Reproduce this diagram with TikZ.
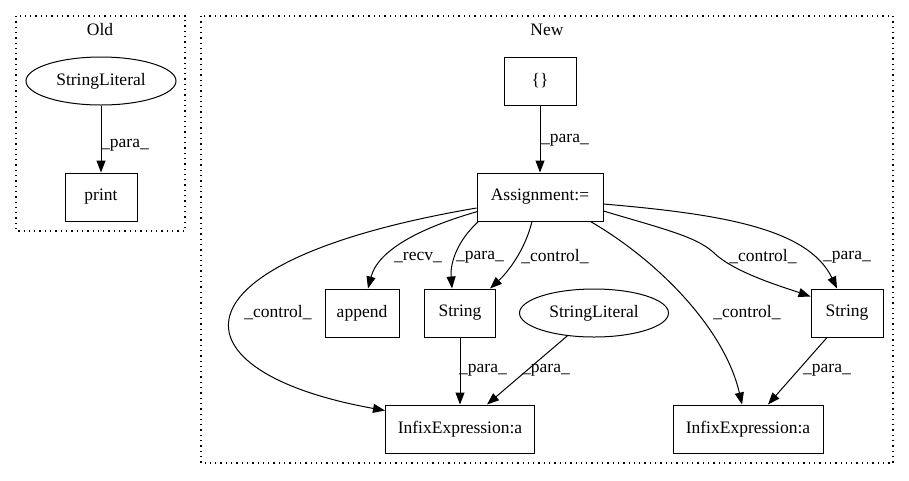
\documentclass[tikz,border=0pt]{standalone}
\usepackage{fontspec}
\setmainfont{Liberation Serif}
\usetikzlibrary{arrows.meta,shapes.geometric,calc}
\begin{document}
\begin{tikzpicture}[x=1pt,y=-1pt,
  every node/.style={font=\fontsize{17.5}{20}\selectfont},
  box/.style={draw,line width=1pt,minimum height=48pt,inner sep=0pt},
  ell/.style={draw,ellipse,line width=1pt,minimum width=150pt,minimum height=48pt,inner sep=0pt},
  cluster/.style={draw,line width=1.2pt,dash pattern=on 1.3pt off 4pt},
  edge/.style={line width=1pt,-{Triangle[length=12pt,width=9pt]}},
  lbl/.style={inner sep=0pt}]
\useasboundingbox (0,0) rectangle (909,480);
% clusters
\draw[cluster] (16,16) rectangle (185,231);
\node[lbl] (oldlbl) at (100,30) {Old};
\draw[cluster] (201,16) rectangle (893,463);
\node[lbl] (newlbl) at (547,30) {New};
% Old
\node[ell] (sl1) at (101,81) {StringLiteral};
\node[box,minimum width=72pt] (print) at (101,197) {print};
\draw[edge] (sl1) -- (print);
\node[lbl] (l1) at (125,145) {\_para\_};
% New
\node[box,minimum width=72pt] (br) at (540,81) {\{\}};
\node[box,minimum width=126pt] (asg) at (540,197) {Assignment:=};
\node[box,minimum width=74pt] (app) at (362,313) {append};
\node[box,minimum width=71pt] (str1) at (460,313) {String};
\node[ell,minimum width=149pt] (sl2) at (594,313) {StringLiteral};
\node[box,minimum width=72pt] (str2) at (847,313) {String};
\node[box,minimum width=149pt] (inf1) at (460,429) {InfixExpression:a};
\node[box,minimum width=150pt] (inf2) at (748,429) {InfixExpression:a};
% edges
\draw[edge] (br) -- (asg);
\node[lbl] (l2) at (565,140) {\_para\_};
\draw[edge] ($(asg.south west)+(1,-10)$) .. controls (420,228) and (378,250) .. ($(app.north)+(6,0)$);
\node[lbl] (l3) at (418,257) {\_recv\_};
\draw[edge] ($(asg.south west)+(2,0)$) .. controls (458,240) and (450,262) .. ($(str1.north)+(-8,0)$);
\node[lbl] (l4) at (480,257) {\_para\_};
\draw[edge] ($(asg.south)+(-8,0)$) .. controls (525,250) and (508,272) .. ($(str1.north east)+(-6,0)$);
\node[lbl] (l5) at (555,257) {\_control\_};
\draw[edge] ($(asg.west)+(0,11)$) .. controls (160,262) and (170,372) .. ($(inf1.north west)+(0,6)$);
\node[lbl] (l6) at (278,313) {\_control\_};
\draw[edge] ($(asg.south east)+(-13,0)$) .. controls (660,262) and (725,330) .. ($(inf2.north)+(-6,0)$);
\node[lbl] (l7) at (747,313) {\_control\_};
\draw[line width=1pt] ($(asg.east)+(0,14)$) .. controls (660,228) and (695,236) .. (713,252) coordinate (cm);
\draw[edge] (cm) .. controls (733,272) and (780,286) .. ($(str2.north west)+(0,8)$);
\node[lbl] (l8) at (763,257) {\_control\_};
\draw[edge] ($(asg.east)+(0,7)$) .. controls (720,214) and (808,228) .. ($(str2.north)+(-10,0)$);
\node[lbl] (l9) at (847,257) {\_para\_};
\draw[edge] (str1) -- (inf1);
\node[lbl] (l10) at (483,370) {\_para\_};
\draw[edge] (sl2) -- ($(inf1.north)+(27,0)$);
\node[lbl] (l11) at (546,370) {\_para\_};
\draw[edge] ($(str2.south)+(-20,0)$) -- ($(inf2.north)+(20,0)$);
\node[lbl] (l12) at (827,370) {\_para\_};
\end{tikzpicture}
\end{document}
